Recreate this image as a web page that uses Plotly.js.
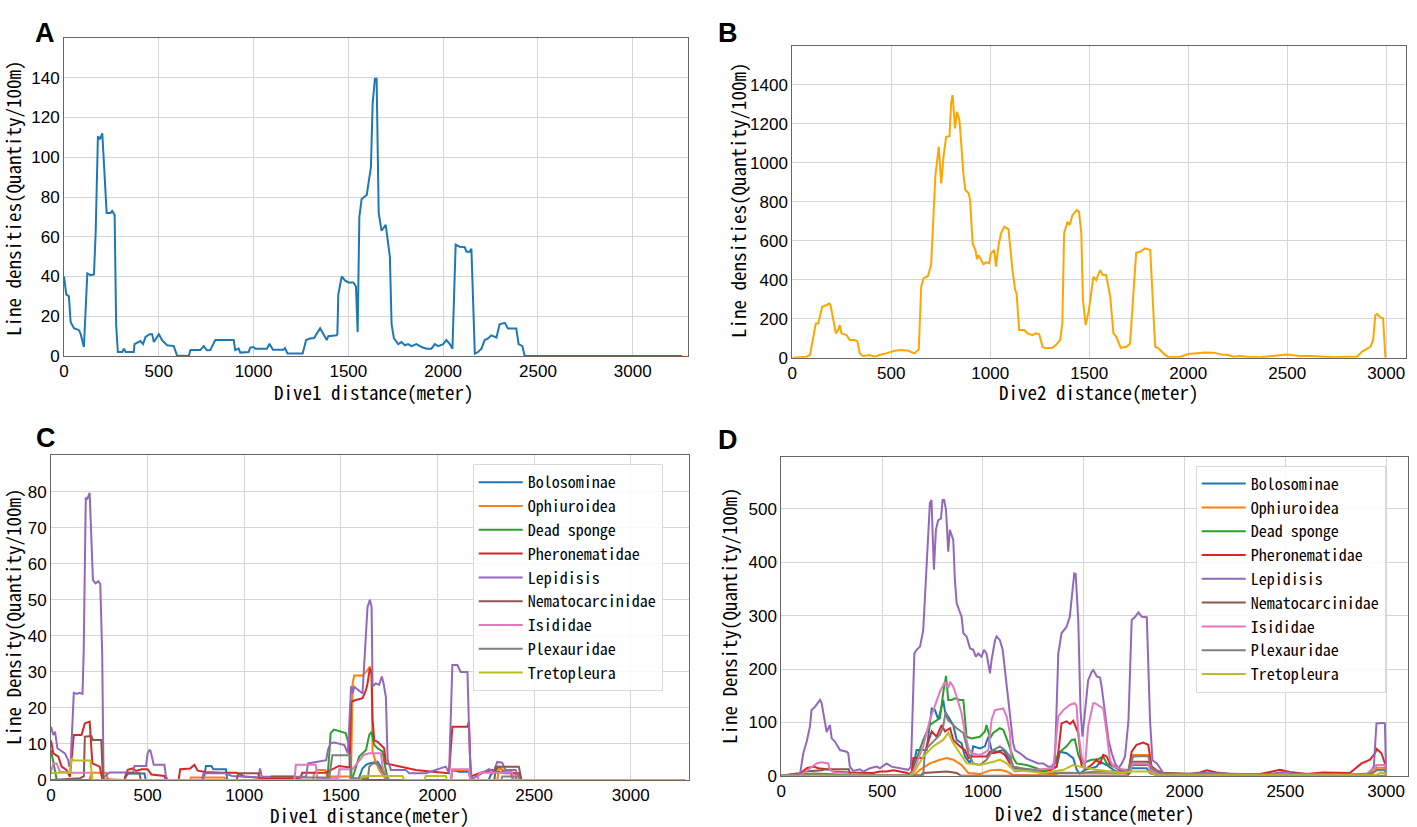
<!DOCTYPE html>
<html>
<head>
<meta charset="utf-8">
<script src="https://cdn.plot.ly/plotly-3.0.1.min.js"></script>
<style>
  body { margin: 0; background: #fff; }
  #plotArea { width: 1417px; height: 827px; }
</style>
</head>
<body>
<div id="plotArea"></div>
<script>
// ---- Dive1, all taxa (panel A) ----
var dive1Dist = [0,12,26,35,53,79,88,100,105,123, 140,158,167,179,189,202,225,246,254,267,
  275,284,307,316,325,368,372,403,417,430, 452,465,474,500,517,544,579,596,658,667,
  719,737,754,772,798,895,903,921,930,974, 982,1000,1009,1070,1084,1102,1158,1166,1179,1259,
  1277,1298,1319,1351,1386,1394,1438,1442,1447,1465, 1482,1500,1526,1540,1549,1558,1570,1597,1610,1619,
  1628,1640,1649,1660,1675,1697,1719,1728,1740,1763, 1780,1798,1815,1833,1859,1886,1912,1938,1956,1974,
  2000,2017,2035,2049,2066,2087,2114,2123,2140,2149, 2167,2184,2202,2219,2237,2254,2281,2298,2325,2342,
  2386,2398,2418,2430,3260];
var dive1Total = [40,31,30,17,14,13,11,5.4,4.5,41.6, 40.7,41,62,110.6,109,112,72,72,73,71,
  16,2,2,3.7,2,2,6,7.5,6,9.6, 11,11,7,11,8,5.4,5,0.3,0,3,
  3,5,2.9,3,8,8,3,3.7,1.7,2, 4.2,4.5,3.7,3.7,6.2,3.2,3.2,4,1.2,1.2,
  8,8.8,9,14,8,10,10.4,11,31,40, 38,37,37,35,12,70,79,81,90,95,
  127,139.5,139.5,72,63,66,50,16,9,6, 7,5.4,6,5,6,4.5,3.7,3.7,6,5,
  6,8,6,3.7,56,55,54.7,52.5,52.5,54, 1.2,2,3.7,8,8.8,10.4,9.3,16,16.7,13.8,
  13.8,6,5,0,0];

// ---- Dive2, all taxa (panel B) ----
var dive2Dist = [0,72,89,101,119,131,151,173,186,193, 203,210,220,231,240,248,274,290,315,329,
  341,357,391,416,441,475,500,517,550,584, 617,639,651,663,685,701,713,723,740,752,
  764,777,794,802,810,822,832,844,852,864, 874,891,898,911,925,933,941,953,965,978,
  995,1003,1020,1029,1042,1054,1071,1092,1112,1126, 1133,1146,1171,1188,1213,1230,1247,1264,1280,1314,
  1331,1353,1364,1373,1390,1401,1415,1437,1448,1460, 1468,1482,1498,1521,1535,1555,1568,1585,1606,1622,
  1636,1659,1689,1706,1720,1737,1757,1782,1808,1821, 1833,1850,1875,1900,1959,2001,2043,2085,2127,2169,
  2203,2228,2262,2296,2363,2431,2498,2532,2566,2616, 2667,2734,2802,2853,2878,2900,2920,2934,2945,2954,
  2971,2984,2996];
var dive2Total = [0,5,14,82,176,176,261,270,279,270, 219,193,125,142,167,125,116,91,91,82,
  22,9,14,5,14,22,31,36,39,36, 22,43,364,407,419,475,723,937,1082,894,
  1031,1133,1136,1304,1347,1176,1261,1219,1116,945, 860,843,808,586,552,504,526,501,479,489,
  484,535,552,467,578,637,672,658,450,347, 330,142,142,125,116,125,121,56,48,51,
  65,91,176,637,697,680,731,757,749,637, 296,167,244,415,398,449,424,424,313,125,
  108,51,56,73,296,538,543,561,552,296, 56,48,22,2,5,19,22,27,26,17,
  14,5,9,5,2,9,17,12,9,9, 5,2,5,5,31,43,56,91,219,224,
  207,202,0];

// ---- Dive1 by taxon (panel C) ----
var d1BoloX = [0,380,389,484,490,790,802,830,840,905, 912,1590,1612,1630,1647,1690,1707,1724,1740,2070,
  2077,2112,2163,2170,2265,2275,2318,2344,2380,2390, 3280];
var d1BoloY = [0,0,1.8,1.8,0,0,3.9,3.9,3,3, 0,0,3.2,4.2,4.6,5.1,3.7,2,0,0,
  2.8,2.3,2.3,0,0,1.4,3.7,2.3,2.3,0, 0];
var d1OphiX = [0,200,209,286,295,720,724,896,905,1355, 1361,1378,1420,1430,1545,1552,1561,1569,1612,1638,
  1650,1659,1664,1680,1699,1720,1740,2070,2077,2163, 2170,2310,2318,2395,2430,3280];
var d1OphiY = [0,0,2,2,0,0,0.7,0.7,0,0, 1.8,2.8,2.8,1,1,0,26.8,29,29,30.5,
  31.5,29.6,8,5,2.8,1,0,0,2.8,2.8, 0,0,3.2,2,0,0];
var d1DeadX = [0,12,29,35,1430,1439,1447,1464,1499,1525, 1542,1551,1560,1578,1595,1630,1647,1659,1673,1690,
  1716,1729,1742,1750,3280];
var d1DeadY = [8.3,4.6,0.2,0,0,6.5,13,14,13.4,13, 9.7,1.1,0.5,3.7,6.5,8.3,12.5,13.4,9.7,8.8,
  7.9,3.7,0.5,0,0];
var d1PheroX = [0,12,38,55,80,98,118,158,175,200, 214,252,265,380,397,423,440,470,500,520,
  587,595,660,669,720,742,759,800,880,960, 1000,1100,1290,1300,1420,1447,1470,1490,1545,1553,
  1578,1612,1630,1638,1650,1659,1664,1673,1690,1707, 1724,1733,1767,1802,1836,1888,1974,2060,2077,2155,
  2163,2172,2215,2284,2309,2352,2421,2430,3280];
var d1PheroY = [11,7.4,6.5,3.7,2.8,0.9,12.5,12.5,15.7,16.2, 4.6,3.7,0.2,0,2.8,3.2,2.5,3,3,1.5,
  1.1,0,0,3,3.2,4.2,2.6,2.2,2,2, 1,0.5,0.5,2,2,2.8,3.5,3.9,3.5,21.7,
  22.2,22.7,25,26.8,31,29.6,16.7,11,10.6,9.7, 8.8,4.6,4.2,3.7,3.2,2.8,2.3,1.9,14.8,14.8,
  16.2,0.9,1.9,2.8,2.3,1.9,1.9,0,0];
var d1LepiX = [0,12,21,33,72,89,94,101,118,135, 146,163,169,180,187,200,217,231,245,255,
  265,272,286,303,425,432,492,500,509,515, 532,587,595,605,780,790,900,936,1073,1082,
  1090,1320,1330,1382,1424,1433,1447,1467,1518,1536, 1553,1561,1569,1612,1638,1650,1659,1664,1681,1698,
  1712,1721,1733,1742,1759,1836,1853,1939,2043,2060, 2077,2103,2120,2155,2167,2177,2198,2232,2266,2292,
  2309,2335,2352,2404,2430,3280];
var d1LepiY = [14.8,12.5,13.4,8.8,7.4,5.5,3.7,4.2,24.2,23.9, 24.2,23.9,35,78.4,77.9,79.7,55.5,54.6,55.2,54.4,
  35,0.5,1.4,2.1,2.1,3.9,3.9,7.4,8.3,8.1, 4.2,4.2,0.9,0,0,1.9,1.9,1.1,0.7,3.2,
  0.9,0.9,4.6,5.1,5.5,8.3,10.2,10.4,9.7,7.4, 26,24,25.9,24,48,50,48,26,26.8,26.4,
  28.7,26.8,23,5.6,2.8,2.8,1.9,1.9,3.7,1.9, 31.9,31.9,30,30,7.4,0.2,0.9,1.9,3,2.3,
  5,4.8,2.8,2.8,0,0];
var d1NemaX = [0,149,170,175,209,217,260,269,380,389, 400,457,465,960,971,1073,1080,1140,1142,1262,
  1270,2295,2301,2421,2435,3280];
var d1NemaY = [0,0.5,1,12,12.2,11.1,11.1,0,0,1.1, 1.9,1.9,0,0,1.9,1.9,0,0,1,1,
  0,0,3.7,3.7,0,0];
var d1IsidX = [0,12,29,46,106,209,214,1260,1267,1370, 1378,1485,1492,1560,1619,1647,1707,1716,1733,1745,
  2070,2077,2163,2170,2208,2215,2387,2395,3280];
var d1IsidY = [2.3,4.6,4.6,2.3,2,2,0,0,4.2,4.2, 0.5,0.5,3,3,7,7.4,7.4,3.7,1,0,
  0,3,3,0,0,2,2,0,0];
var d1PlexX = [0,1285,1292,1440,1456,1550,1556,1640,1647,1664, 1690,1707,1733,1750,2330,2335,2404,2410,3280];
var d1PlexY = [0,0,0.7,0.7,6.9,6.9,0.5,0.5,3.7,4.6, 4.6,3,1,0,0,1,1,0,0];
var d1TretX = [0,21,98,106,118,204,214,1600,1612,1724, 1819,1828,1932,1939,2043,2050,3280];
var d1TretY = [1.9,2,2,6,5.4,5.4,0,0,1.1,1.1, 1.1,0,0,1.1,1.1,0,0];

// ---- Dive2 by taxon (panel D) ----
var d2BoloX = [0,27,76,109,159,241,640,655,671,721, 746,762,779,803,812,837,853,870,894,911,
  936,952,985,1010,1027,1043,1068,1101,1134,1151, 1200,1250,1299,1366,1382,1415,1448,1465,1481,1506,
  1539,1564,1581,1614,1647,1680,1729,1738,1812,1829, 1862,2900,2945,2953,2994,3000];
var d2BoloY = [0,1,4,3,3,0,0,17,48,48, 126,123,105,142,120,105,95,67,61,36,
  23,55,51,55,73,48,45,48,30,14, 11,8,5,17,45,42,33,11,4,11,
  14,17,26,20,11,5,5,14,14,5, 1,1,8,11,11,0];
var d2OphiX = [0,655,688,737,787,820,853,894,928,985, 1035,1084,1118,1151,1350,1382,1465,1600,1720,1738,
  1820,1837,1880,2930,2953,2994,3000];
var d2OphiY = [0,0,11,23,30,33,30,20,5,3, 10,11,8,1,1,6,5,4,4,39,
  39,5,1,1,15,15,0];
var d2DeadX = [0,93,159,241,330,640,655,704,737,787, 803,817,828,845,861,886,903,919,944,985,
  1010,1018,1035,1051,1084,1101,1126,1151,1167,1217, 1266,1299,1349,1374,1415,1440,1456,1473,1490,1514,
  1539,1572,1597,1614,1647,1680,1729,1746,1820,1837, 1878,2027,2192,2500,2900,2945,2953,2994,3000];
var d2DeadY = [0,1,4,3,0,0,14,67,95,108, 155,187,142,142,145,142,142,73,70,73,
  83,95,70,80,89,86,61,33,23,20, 14,8,14,42,55,67,68,39,23,26,
  30,31,36,23,17,11,11,20,20,11, 5,3,3,2,2,15,20,20,0];
var d2PheroX = [0,93,126,159,184,241,258,341,456,489, 522,556,614,646,655,704,721,746,770,795,
  812,837,853,886,911,928,944,985,1018,1035, 1051,1084,1109,1134,1151,1184,1250,1316,1366,1390,
  1415,1432,1448,1473,1490,1514,1539,1564,1581,1597, 1614,1630,1655,1696,1721,1738,1762,1795,1820,1837,
  1862,1895,2027,2077,2110,2159,2225,2357,2424,2473, 2523,2605,2688,2820,2878,2920,2945,2953,2977,2994,
  3000];
var d2PheroY = [0,4,14,17,14,11,8,6,5,8, 8,10,6,3,33,33,55,83,73,95,
  83,89,67,55,48,33,36,36,36,45, 42,45,39,23,17,14,10,6,17,98,
  102,97,103,80,17,14,20,30,23,39, 36,23,17,6,5,45,58,62,58,17,
  10,5,3,6,10,6,3,2,7,11, 7,3,6,5,23,30,42,50,42,23,
  0];
var d2LepiX = [0,93,109,126,142,150,167,192,200,217, 225,241,250,266,291,324,332,340,357,390,
  407,440,473,489,522,547,589,630,643,660, 671,688,704,721,737,745,757,767,778,792,
  800,808,817,828,836,853,861,870,886,894, 903,919,936,952,965,977,993,1005,1018,1035,
  1043,1060,1068,1084,1098,1109,1126,1134,1150,1159, 1184,1217,1250,1274,1299,1324,1340,1357,1374,1390,
  1415,1431,1453,1460,1473,1484,1494,1506,1522,1540, 1548,1565,1581,1589,1606,1623,1639,1656,1672,1689,
  1705,1722,1738,1755,1771,1788,1813,1829,1841,1863, 1879,1896,1970,2100,2200,2400,2500,2533,2633,2798,
  2914,2939,2952,2980,2994,3000];
var d2LepiY = [0,3,42,64,92,123,129,142,136,101, 82,95,70,64,48,45,42,17,9,12,
  7.5,14,17,14,23,17,14,11,17,229, 236,242,273,404,511,517,386,461,479,482,
  517,517,498,420,461,442,367,323,304,298, 267,261,239,236,223,229,223,236,229,192,
  217,254,261,254,236,198,148,117,61,48, 42,32,26,23,23,17,17,26,229,267,
  279,298,379,378,292,123,73,123,179,195, 198,186,184,167,111,67,42,23,14,23,
  36,104,292,298,306,298,297,104,29,23, 14,4,3,5,4,2,7.5,4,3,2,
  4,17,98,99,98,0];
var d2NemaX = [0,100,120,200,220,335,345,690,704,787, 820,870,890,1720,1738,1820,1837,1870,3000];
var d2NemaY = [0,0,8,10,12,12,0,0,5,8, 8,5,0,0,26,26,5,0,0];
var d2IsidX = [0,93,142,175,200,233,241,266,324,341, 640,655,704,737,754,787,812,828,837,853,
  870,894,911,928,944,985,1002,1027,1043,1060, 1101,1118,1134,1142,1159,1349,1374,1399,1432,1456,
  1465,1473,1490,1506,1522,1547,1556,1581,1597,1614, 1630,1647,1729,1746,1820,1829,1862,1900,2900,2945,
  2953,2994,3000];
var d2IsidY = [0,0,14,23,25,23,11,6,5,1.5, 1.5,8,55,105,123,158,176,164,176,167,
  148,117,80,52,42,39,42,48,105,123, 126,111,80,17,8,14,111,123,133,136,
  130,80,36,17,92,136,136,130,126,80, 30,17,8,23,22,11,5,2,2,15,
  20,20,0];
var d2PlexX = [0,93,159,324,704,713,746,787,803,815, 825,845,870,903,928,952,985,1018,1051,1084,
  1109,1134,1151,1184,1250,1299,1399,1481,1564,1720, 1746,1820,1837,1878,1950,2900,2945,2953,2994,3000];
var d2PlexY = [0,0,3,1,1,48,61,77,92,120, 105,98,89,80,42,23,20,30,48,55,
  48,36,17,14,11,5,5,5,8,8, 36,37,14,5,1,1,8,10,10,0];
var d2TretX = [0,640,655,704,754,803,828,853,886,919, 985,1027,1051,1084,1118,1151,1299,1399,1448,1481,
  1564,1696,1738,1820,1862,2950,2969,2994,3000];
var d2TretY = [0,0,4,36,55,67,80,61,42,23, 20,23,26,30,23,11,5,11,20,17,
  11,5,8,8,1,1,5,5,0];

var taxa = ["Bolosominae", "Ophiuroidea", "Dead sponge", "Pheronematidae", "Lepidisis",
  "Nematocarcinidae", "Isididae", "Plexauridae", "Tretopleura"];
var taxaColors = ["#1f77b4", "#ff7f0e", "#2ca02c", "#d62728", "#9467bd",
  "#8c564b", "#e377c2", "#7f7f7f", "#bcbd22"];

var dive1X = [d1BoloX, d1OphiX, d1DeadX, d1PheroX, d1LepiX, d1NemaX, d1IsidX, d1PlexX, d1TretX];
var dive1Y = [d1BoloY, d1OphiY, d1DeadY, d1PheroY, d1LepiY, d1NemaY, d1IsidY, d1PlexY, d1TretY];
var dive2X = [d2BoloX, d2OphiX, d2DeadX, d2PheroX, d2LepiX, d2NemaX, d2IsidX, d2PlexX, d2TretX];
var dive2Y = [d2BoloY, d2OphiY, d2DeadY, d2PheroY, d2LepiY, d2NemaY, d2IsidY, d2PlexY, d2TretY];

var W = 1417, H = 827;
var monoFont = "'Noto Sans Mono CJK SC', 'DejaVu Sans Mono', monospace";

var data = [];
data.push({x: dive1Dist, y: dive1Total, xaxis: "x", yaxis: "y", type: "scatter", mode: "lines",
  line: {color: "#1f77b4", width: 2}, showlegend: false});
data.push({x: dive2Dist, y: dive2Total, xaxis: "x2", yaxis: "y2", type: "scatter", mode: "lines",
  line: {color: "#ffa500", width: 2}, showlegend: false});
for (var i = 0; i < taxa.length; i++) {
  data.push({x: dive1X[i], y: dive1Y[i], name: taxa[i], xaxis: "x3", yaxis: "y3",
    type: "scatter", mode: "lines", line: {color: taxaColors[i], width: 2}, legend: "legend"});
}
for (var j = 0; j < taxa.length; j++) {
  data.push({x: dive2X[j], y: dive2Y[j], name: taxa[j], xaxis: "x4", yaxis: "y4",
    type: "scatter", mode: "lines", line: {color: taxaColors[j], width: 2}, legend: "legend2"});
}

// shared look of every axis
function axis(left, right, range, ticks, anchor) {
  return {
    domain: [left, right], range: range, anchor: anchor,
    tickvals: ticks, ticks: "",
    tickfont: {family: "'Liberation Sans', Arial, sans-serif", size: 17, color: "#000"},
    showgrid: true, gridcolor: "#d6d6d6", gridwidth: 1, zeroline: false,
    showline: true, mirror: true, linecolor: "#666", linewidth: 1
  };
}

var distTicks = [0, 500, 1000, 1500, 2000, 2500, 3000];

function legendBox(xPos, yPos) {
  return {
    x: xPos, y: yPos, xanchor: "left", yanchor: "top", itemwidth: 44,
    bgcolor: "rgba(255,255,255,0.85)", bordercolor: "#d9d9d9", borderwidth: 1,
    font: {family: monoFont, size: 16, color: "#000"}
  };
}

function label(txt, xp, yp) {
  return {text: "<b>" + txt + "</b>", x: xp / W, y: 1 - yp / H, xref: "paper", yref: "paper",
    showarrow: false, font: {family: "'Liberation Sans', Arial, sans-serif", size: 27, color: "#000"}};
}

// axis titles, placed where the reference puts them
function axisTitle(txt, xp, yp, vertical) {
  return {text: txt, x: xp / W, y: 1 - yp / H, xref: "paper", yref: "paper",
    xanchor: "center", yanchor: "middle", showarrow: false, textangle: vertical ? -90 : 0,
    font: {family: monoFont, size: 19, color: "#000"}};
}

var layout = {
  width: W, height: H,
  margin: {l: 0, r: 0, t: 0, b: 0},
  paper_bgcolor: "#fff", plot_bgcolor: "#fff",
  xaxis: axis(64 / W, 687.7 / W, [0, 3290], distTicks, "y"),
  yaxis: axis(1 - 356 / H, 1 - 38 / H, [0, 160], [0, 20, 40, 60, 80, 100, 120, 140], "x"),
  xaxis2: axis(792.3 / W, 1406 / W, [0, 3100], distTicks, "y2"),
  yaxis2: axis(1 - 357.7 / H, 1 - 45.7 / H, [0, 1600], [0, 200, 400, 600, 800, 1000, 1200, 1400], "x2"),
  xaxis3: axis(51 / W, 688.7 / W, [0, 3300], distTicks, "y3"),
  yaxis3: axis(1 - 780 / H, 1 - 455 / H, [0, 90.2], [0, 10, 20, 30, 40, 50, 60, 70, 80], "x3"),
  xaxis4: axis(781.3 / W, 1408.3 / W, [0, 3110], distTicks, "y4"),
  yaxis4: axis(1 - 775.7 / H, 1 - 456.7 / H, [0, 598], [0, 100, 200, 300, 400, 500], "x4"),
  legend: legendBox(472.7 / W, 1 - 464.3 / H),
  legend2: legendBox(1195.7 / W, 1 - 465.7 / H),
  annotations: [
    label("A", 33, 16), label("B", 728, 16), label("C", 34, 438), label("D", 728, 440),
    axisTitle("Dive1 distance(meter)", 374, 391, false),
    axisTitle("Line densities(Quantity/100m)", 12, 198, true),
    axisTitle("Dive2 distance(meter)", 1099, 391, false),
    axisTitle("Line densities(Quantity/100m)", 737, 200, true),
    axisTitle("Dive1 distance(meter)", 370, 814, false),
    axisTitle("Line Density(Quantity/100m)", 12, 617, true),
    axisTitle("Dive2 distance(meter)", 1095, 812, false),
    axisTitle("Line Density(Quantity/100m)", 728, 616, true)
  ]
};

Plotly.newPlot("plotArea", data, layout, {staticPlot: true});
</script>
</body>
</html>
